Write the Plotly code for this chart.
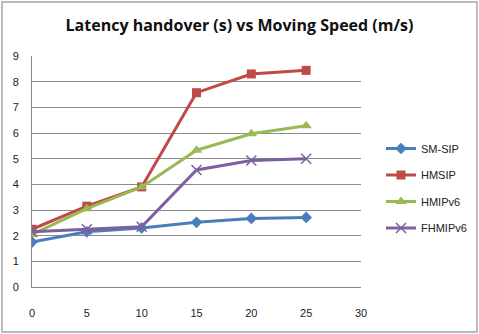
import plotly.graph_objects as go

speeds = [0, 5, 10, 15, 20, 25]
sm_sip = [1.75, 2.15, 2.3, 2.52, 2.67, 2.71]
hmsip = [2.25, 3.15, 3.9, 7.57, 8.3, 8.44]
hmipv6 = [2.05, 3.05, 3.9, 5.33, 5.97, 6.28]
fhmipv6 = [2.15, 2.25, 2.35, 4.56, 4.93, 5.0]

series = [
    ("SM-SIP", sm_sip, "#4A7EBB", "diamond", 9),
    ("HMSIP", hmsip, "#BE4B48", "square", 9),
    ("HMIPv6", hmipv6, "#98B954", "triangle-up", 10),
    ("FHMIPv6", fhmipv6, "#7D60A0", "x-thin-open", 10),
]

fig = go.Figure()
for name, vals, col, sym, sz in series:
    marker = dict(symbol=sym, size=sz, color=col)
    if sym == "x-thin-open":
        marker["line"] = dict(color=col, width=1.5)
    fig.add_trace(go.Scatter(
        x=speeds, y=vals, name=name, mode="lines+markers",
        line=dict(color=col, width=3), marker=marker, legendgroup=name,
    ))

W, H = 479, 334
L, R, T, B = 32, 118, 56, 47
pw, ph = W - L - R, H - T - B

fig.update_layout(
    width=W, height=H,
    margin=dict(l=L, r=R, t=T, b=B, autoexpand=False),
    paper_bgcolor="white", plot_bgcolor="white",
    title=dict(text="<b>Latency handover (s) vs Moving Speed (m/s)</b>",
               x=0.5, xanchor="center", y=1 - 25 / H, yanchor="middle",
               font=dict(family="Open Sans", size=16, color="#111")),
    font=dict(family="Liberation Sans", size=11, color="#222"),
    xaxis=dict(range=[0, 30], tickvals=[0, 5, 10, 15, 20, 25, 30],
               showgrid=False, zeroline=False, showline=True,
               linecolor="#888", linewidth=1, ticks="outside", ticklen=16,
               tickcolor="rgba(0,0,0,0)",
               tickfont=dict(size=11, color="#222"), fixedrange=True),
    yaxis=dict(range=[0, 9], tickvals=list(range(10)),
               showgrid=True, gridcolor="#8c8c8c", gridwidth=1,
               zeroline=False, showline=True, linecolor="#888", linewidth=1,
               ticks="outside", ticklen=10, tickcolor="rgba(0,0,0,0)",
               tickfont=dict(size=11, color="#222"), fixedrange=True),
    legend=dict(x=(381 - L) / pw, xanchor="left", y=(H - B - 134) / ph, yanchor="top",
                font=dict(size=11, color="#222"), tracegroupgap=7.5,
                bgcolor="rgba(0,0,0,0)", itemwidth=30),
    showlegend=True,
    shapes=[dict(type="rect", xref="paper", yref="paper",
                 x0=-(L - 2) / pw, x1=1 + (R - 2) / pw,
                 y0=-(B - 2) / ph, y1=1 + (T - 2) / ph,
                 line=dict(color="#bbbbbb", width=2), fillcolor="rgba(0,0,0,0)",
                 layer="below")],
)

fig.write_html("out.html", config={"displayModeBar": False},
               post_script="document.body.style.margin='0';")
